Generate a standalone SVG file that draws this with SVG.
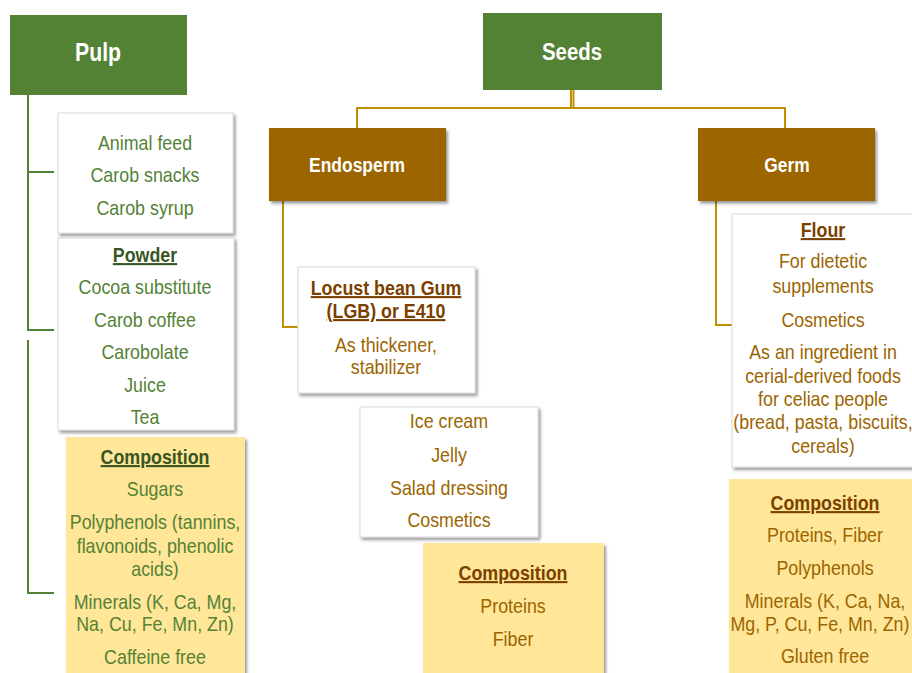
<svg xmlns="http://www.w3.org/2000/svg" width="912" height="673" viewBox="0 0 912 673">
<defs>
<filter id="sh" x="-10%" y="-10%" width="125%" height="125%">
<feDropShadow dx="2" dy="2.5" stdDeviation="1.5" flood-color="#000" flood-opacity="0.4"/>
</filter>
<style>
text{font-family:"Liberation Sans",Arial,sans-serif;text-anchor:middle}
.hd{font-weight:bold;fill:#fff}
.g{font-size:21px;fill:#548235}
.gh{font-size:21px;fill:#375623;font-weight:bold;text-decoration:underline}
.b{font-size:21px;fill:#9C6500}
.bh{font-size:21px;fill:#7B3F00;font-weight:bold;text-decoration:underline}
.white{fill:#fff;stroke:#d9d9d9;stroke-width:1;filter:url(#sh)}
.yel{fill:#FFE699;filter:url(#sh)}
.gc{fill:none;stroke:#548235;stroke-width:2}
.bc{fill:none;stroke:#BF8F00;stroke-width:2}
</style>
</defs>
<rect width="912" height="673" fill="#fff"/>

<g id="connectors">
<path class="gc" d="M28 95 V330 H54 M28 172 H54 M28 340 V593 H54"/>
<path class="bc" d="M571 90 V108 M357 128 V108 H785 V128"/>
<path class="bc" stroke-width="1.2" d="M573.5 90 V107"/>
<path class="bc" d="M283 201 V327 H298"/>
<path class="bc" d="M716 201 V325 H732"/>
</g>

<g id="pulp">
<rect x="10" y="15" width="177" height="80" fill="#548235"/>
<g transform="translate(98 0) scale(0.85 1)"><text class="hd" x="0" y="61" font-size="25">Pulp</text></g>
</g>

<g id="pulp-uses">
<rect class="white" x="58" y="113" width="175" height="120"/>
<g transform="translate(145 0) scale(0.85 1)">
<text class="g" x="0" y="150">Animal feed</text>
<text class="g" x="0" y="182">Carob snacks</text>
<text class="g" x="0" y="215">Carob syrup</text>
</g>
</g>

<g id="powder">
<rect class="white" x="58" y="238" width="176" height="192"/>
<g transform="translate(145 0) scale(0.85 1)">
<text class="gh" x="0" y="262">Powder</text>
<text class="g" x="0" y="294">Cocoa substitute</text>
<text class="g" x="0" y="327">Carob coffee</text>
<text class="g" x="0" y="359">Carobolate</text>
<text class="g" x="0" y="392">Juice</text>
<text class="g" x="0" y="424">Tea</text>
</g>
</g>

<g id="pulp-composition">
<rect class="yel" x="66" y="437" width="179" height="245"/>
<g transform="translate(155 0) scale(0.85 1)">
<text class="gh" x="0" y="464">Composition</text>
<text class="g" x="0" y="496">Sugars</text>
<text class="g" x="0" y="529">Polyphenols (tannins,</text>
<text class="g" x="0" y="553">flavonoids, phenolic</text>
<text class="g" x="0" y="576">acids)</text>
<text class="g" x="0" y="609">Minerals (K, Ca, Mg,</text>
<text class="g" x="0" y="631">Na, Cu, Fe, Mn, Zn)</text>
<text class="g" x="0" y="664">Caffeine free</text>
</g>
</g>

<g id="seeds">
<rect x="483" y="13" width="179" height="77" fill="#548235"/>
<g transform="translate(572 0) scale(0.85 1)"><text class="hd" x="0" y="60" font-size="24">Seeds</text></g>
</g>

<g id="endosperm">
<rect x="269" y="128" width="177" height="73" fill="#9C6500" filter="url(#sh)"/>
<g transform="translate(357 0) scale(0.85 1)"><text class="hd" x="0" y="172" font-size="20.5">Endosperm</text></g>
</g>

<g id="germ">
<rect x="698" y="128" width="177" height="73" fill="#9C6500" filter="url(#sh)"/>
<g transform="translate(787 0) scale(0.85 1)"><text class="hd" x="0" y="172" font-size="20.5">Germ</text></g>
</g>

<g id="lbg">
<rect class="white" x="298" y="267" width="177" height="126" stroke="none"/>
<g transform="translate(386 0) scale(0.85 1)">
<text class="bh" x="0" y="295">Locust bean Gum</text>
<text class="bh" x="0" y="318">(LGB) or E410</text>
<text class="b" x="0" y="352">As thickener,</text>
<text class="b" x="0" y="374">stabilizer</text>
</g>
</g>

<g id="lbg-uses">
<rect class="white" x="360" y="407" width="178" height="130"/>
<g transform="translate(449 0) scale(0.85 1)">
<text class="b" x="0" y="428">Ice cream</text>
<text class="b" x="0" y="462">Jelly</text>
<text class="b" x="0" y="495">Salad dressing</text>
<text class="b" x="0" y="527">Cosmetics</text>
</g>
</g>

<g id="endosperm-composition">
<rect class="yel" x="423" y="543" width="181" height="135"/>
<g transform="translate(513 0) scale(0.85 1)">
<text class="bh" x="0" y="580">Composition</text>
<text class="b" x="0" y="613">Proteins</text>
<text class="b" x="0" y="646">Fiber</text>
</g>
</g>

<g id="flour">
<rect class="white" x="732" y="214" width="190" height="253"/>
<g transform="translate(823 0) scale(0.85 1)">
<text class="bh" x="0" y="237">Flour</text>
<text class="b" x="0" y="268">For dietetic</text>
<text class="b" x="0" y="293">supplements</text>
<text class="b" x="0" y="327">Cosmetics</text>
<text class="b" x="0" y="359">As an ingredient in</text>
<text class="b" x="0" y="383">cerial-derived foods</text>
<text class="b" x="0" y="406">for celiac people</text>
<text class="b" x="0" y="429">(bread, pasta, biscuits,</text>
<text class="b" x="0" y="453">cereals)</text>
</g>
</g>

<g id="germ-composition">
<rect class="yel" x="729" y="479" width="190" height="200"/>
<g transform="translate(825 0) scale(0.85 1)">
<text class="bh" x="0" y="510">Composition</text>
<text class="b" x="0" y="542">Proteins, Fiber</text>
<text class="b" x="0" y="575">Polyphenols</text>
<text class="b" x="0" y="608">Minerals (K, Ca, Na,</text>
<text class="b" x="-6" y="631">Mg, P, Cu, Fe, Mn, Zn)</text>
<text class="b" x="0" y="663">Gluten free</text>
</g>
</g>
</svg>
